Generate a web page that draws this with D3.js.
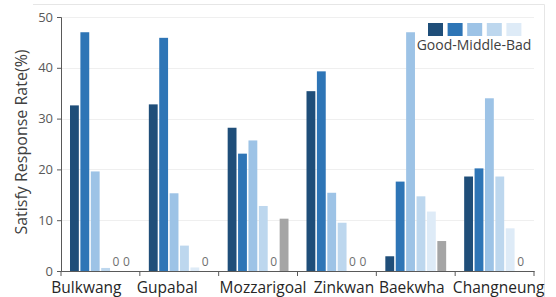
<!DOCTYPE html>
<html>
<head>
<meta charset="utf-8">
<script src="https://cdn.jsdelivr.net/npm/d3@7"></script>
<style>
  body { margin: 0; background: #fff; }
  text { font-family: "Open Sans", "Noto Sans", sans-serif; }
</style>
</head>
<body>
<div id="chart"></div>
<script>
// Data
const categories = ["Bulkwang", "Gupabal", "Mozzarigoal", "Zinkwan", "Baekwha", "Changneung"];
const seriesNames = ["s1", "s2", "s3", "s4", "s5", "s6"];
const seriesColors = ["#1f4e79", "#2e75b6", "#9dc3e6", "#bdd7ee", "#deebf7", "#a5a5a5"];
const values = [
  [32.6, 47.0, 19.6, 0.6, 0, 0],
  [32.8, 45.9, 15.3, 5.0, 0.7, 0],
  [28.2, 23.1, 25.7, 12.8, 0, 10.3],
  [35.4, 39.3, 15.4, 9.5, 0, 0],
  [2.9, 17.6, 47.0, 14.7, 11.7, 5.9],
  [18.6, 20.2, 34.0, 18.6, 8.4, 0]
];
const yTicks = [0, 10, 20, 30, 40, 50];
const legendLabel = "Good-Middle-Bad";
const yLabel = "Satisfy Response Rate(%)";

const width = 556, height = 297;
const margin = { left: 61, right: 22, top: 17, bottom: 26 };

// the reference nudges category labels off the band centres
const labelNudge = [-14, -12, 5, 7, -4, 4];

const svg = d3.select("#chart").append("svg")
  .attr("width", width)
  .attr("height", height);

// light frame (top and right edges)
svg.append("path")
  .attr("d", "M33,4.5H544.5V297")
  .attr("fill", "none")
  .attr("stroke", "#e6e6e6");

const x = d3.scaleBand()
  .domain(categories)
  .range([margin.left, width - margin.right]);

const x1 = d3.scaleBand()
  .domain(seriesNames)
  .range([9, x.bandwidth() - 9])
  .paddingInner(0.15);

const y = d3.scaleLinear()
  .domain([0, 50])
  .range([height - margin.bottom, margin.top]);

// gridlines
svg.append("g")
  .selectAll("line")
  .data(yTicks.filter(d => d > 0))
  .enter()
  .append("line")
  .attr("x1", margin.left)
  .attr("x2", width - margin.right)
  .attr("y1", d => Math.round(y(d)) + 0.5)
  .attr("y2", d => Math.round(y(d)) + 0.5)
  .attr("stroke", "#efefef");

// bars
const groups = svg.append("g")
  .selectAll("g")
  .data(categories)
  .enter()
  .append("g")
  .attr("transform", d => `translate(${x(d)},0)`);

groups.each(function (cat, ci) {
  const g = d3.select(this);
  values[ci].forEach((v, si) => {
    if (v > 0) {
      g.append("rect")
        .attr("x", x1(seriesNames[si]))
        .attr("y", y(v))
        .attr("width", x1.bandwidth())
        .attr("height", y(0) - y(v))
        .attr("fill", seriesColors[si]);
    } else {
      g.append("text")
        .attr("x", x1(seriesNames[si]) + x1.bandwidth() / 2)
        .attr("y", y(0) - 5)
        .attr("text-anchor", "middle")
        .attr("font-size", 12)
        .attr("fill", "#6f6f6f")
        .text("0");
    }
  });
});

// y axis
const yAxis = svg.append("g")
  .attr("transform", `translate(${margin.left},0)`)
  .call(d3.axisLeft(y).tickValues(yTicks).tickSize(4).tickPadding(4));
yAxis.select(".domain").attr("stroke", "#595959");
yAxis.selectAll(".tick line").attr("stroke", "#595959");
yAxis.selectAll("text")
  .attr("font-size", 13)
  .attr("fill", "#595959")
  .style("font-family", "'Open Sans', sans-serif");

// x axis
const xAxis = svg.append("g")
  .attr("transform", `translate(0,${y(0)})`)
  .call(d3.axisBottom(x).tickSize(0).tickPadding(11));
xAxis.select(".domain").attr("stroke", "#595959");
xAxis.selectAll("text")
  .attr("font-size", 15.5)
  .attr("fill", "#262626")
  .attr("dx", (d, i) => labelNudge[i])
  .style("font-family", "'Open Sans', sans-serif");

// boundary ticks between categories
svg.append("g")
  .selectAll("line")
  .data(categories.concat(["end"]))
  .enter()
  .append("line")
  .attr("x1", (d, i) => margin.left + i * x.step())
  .attr("x2", (d, i) => margin.left + i * x.step())
  .attr("y1", y(0))
  .attr("y2", y(0) + 5)
  .attr("stroke", "#595959");

// y label
svg.append("text")
  .attr("transform", `translate(27,${(y(0) + y(50)) / 2 - 2}) rotate(-90)`)
  .attr("text-anchor", "middle")
  .attr("font-size", 16)
  .attr("fill", "#404040")
  .text(yLabel);

// legend
const legend = svg.append("g").attr("transform", "translate(428,23)");
seriesColors.slice(0, 5).forEach((c, i) => {
  legend.append("rect")
    .attr("x", i * 19.6)
    .attr("y", 0)
    .attr("width", 15)
    .attr("height", 13)
    .attr("fill", c);
});
legend.append("text")
  .attr("x", 46)
  .attr("y", 27)
  .attr("text-anchor", "middle")
  .attr("font-size", 14)
  .attr("fill", "#404040")
  .text(legendLabel);
</script>
</body>
</html>
